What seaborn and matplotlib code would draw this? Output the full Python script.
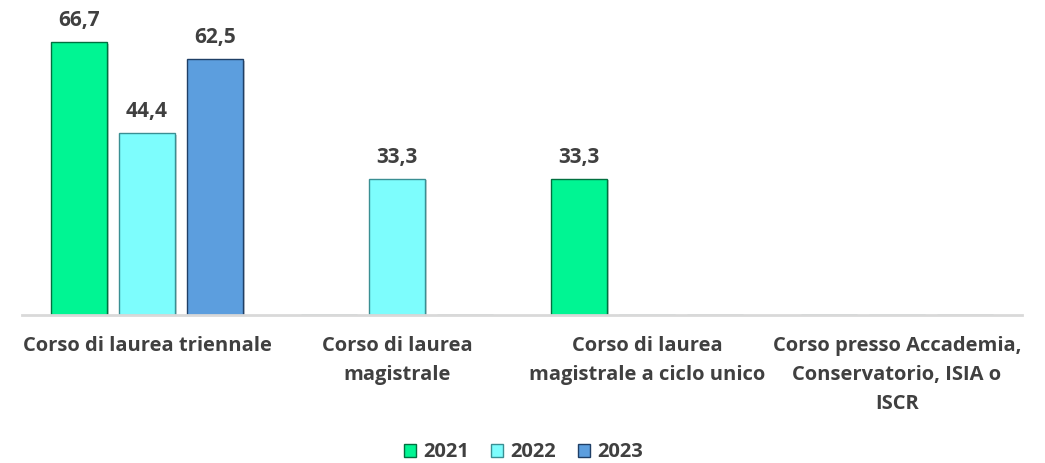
import matplotlib
matplotlib.use("Agg")
import matplotlib.pyplot as plt
import matplotlib.patheffects as pe
import seaborn as sns
import pandas as pd

categories = ["Corso di laurea triennale",
              "Corso di laurea\nmagistrale",
              "Corso di laurea\nmagistrale a ciclo unico",
              "Corso presso Accademia,\nConservatorio, ISIA o\nISCR"]
years = ["2021", "2022", "2023"]
v2021 = [66.7, 0, 33.3, 0]
v2022 = [44.4, 33.3, 0, 0]
v2023 = [62.5, 0, 0, 0]

rows = []
for y, vals in zip(years, [v2021, v2022, v2023]):
    for c, v in zip(categories, vals):
        rows.append({"cat": c, "year": y, "val": v})
df = pd.DataFrame(rows)

sns.set_theme(style="white")
plt.rcParams['font.family'] = ['Open Sans', 'DejaVu Sans']

palette = {"2021": "#00F593", "2022": "#7DFDFD", "2023": "#5C9EDE"}
edges = {"2021": "#00703F", "2022": "#3A8F93", "2023": "#1F3F66"}

fig = plt.figure(figsize=(10.45, 4.63), dpi=100)
ax = fig.add_axes([22/1045, 148/463, 1000/1045, 315/463])
sns.barplot(data=df, x="cat", y="val", hue="year", palette=palette, saturation=1,
            width=0.82, gap=0.18, ax=ax, legend=True)
ax.set_ylim(0, 77)
ax.set_xlim(-0.5, 3.5)

for cont, y in zip(ax.containers, years):
    for p in cont.patches:
        p.set_edgecolor(edges[y])
        p.set_linewidth(1.0)
        p.set_path_effects([pe.SimplePatchShadow(offset=(1.5, -1), alpha=0.25), pe.Normal()])
    labels = [f"{v:.1f}".replace(".", ",") if v > 0 else "" for v in cont.datavalues]
    ax.bar_label(cont, labels=labels, padding=8, fontsize=15, fontweight="bold", color="#404040")

for s in ["top", "right", "left"]:
    ax.spines[s].set_visible(False)
ax.spines["bottom"].set_color("#D9D9D9")
ax.spines["bottom"].set_linewidth(2)
ax.set_yticks([])
ax.set_xlabel("")
ax.set_ylabel("")
ax.tick_params(axis="x", length=0, pad=15)
for t in ax.get_xticklabels():
    t.set_fontsize(14.5)
    t.set_fontweight("bold")
    t.set_color("#404040")
    t.set_linespacing(1.6)
    t.set_verticalalignment("top")

ax.legend_.remove()
handles = [plt.Rectangle((0, 0), 1, 1, facecolor=palette[y], edgecolor=edges[y]) for y in years]
leg = fig.legend(handles, years, loc="lower center", bbox_to_anchor=(0.501, -0.038), ncol=3,
                 frameon=False, handlelength=0.6, handleheight=0.6, handletextpad=0.35,
                 columnspacing=1.1, prop={"size": 14.5, "weight": "bold"})
for t in leg.get_texts():
    t.set_color("#404040")

fig.savefig("out.png", dpi=100)
